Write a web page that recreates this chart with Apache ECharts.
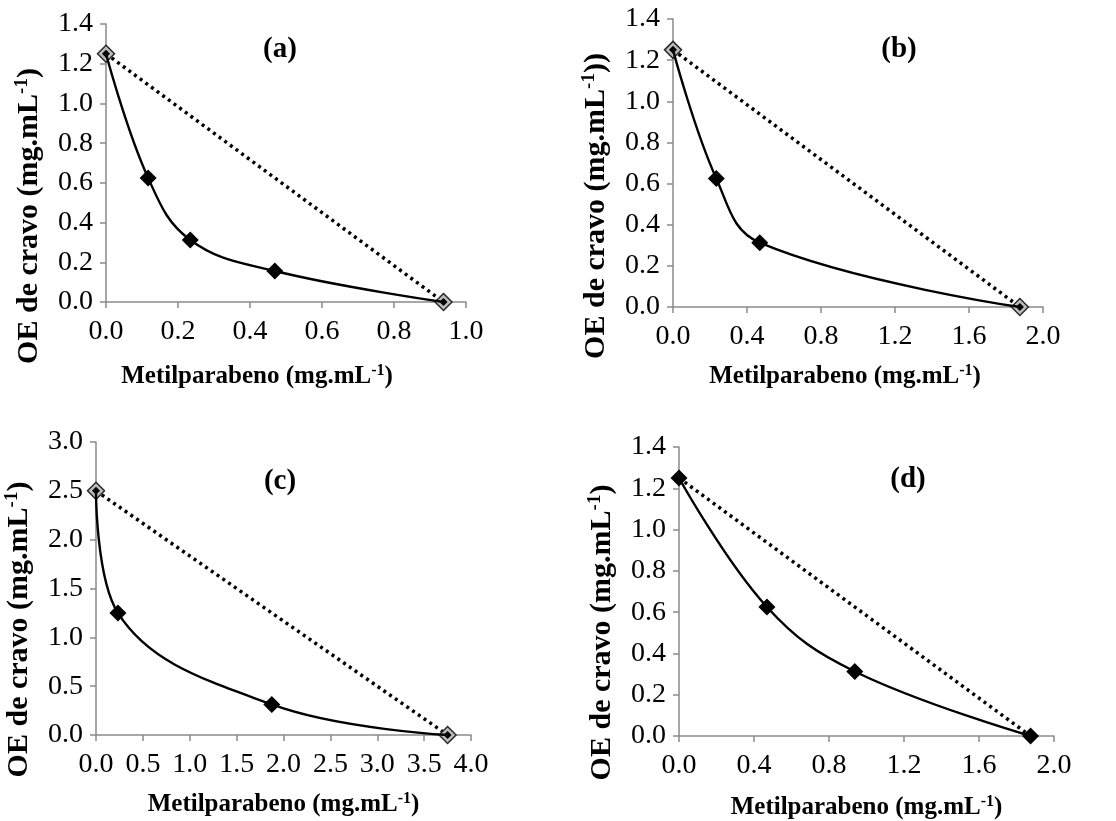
<!DOCTYPE html>
<html>
<head>
<meta charset="utf-8">
<script src="https://cdn.jsdelivr.net/npm/echarts@6/dist/echarts.min.js"></script>
<style>
  html, body { margin: 0; padding: 0; background: #fff; }
  #chart { width: 1116px; height: 821px; }
</style>
</head>
<body>
<div id="chart"></div>
<script>
// valores (mg.mL-1)
const metilA = [0, 0.117, 0.234, 0.469, 0.9375];
const cravoA = [1.25, 0.625, 0.3125, 0.156, 0];
const metilB = [0, 0.234, 0.469, 1.875];
const cravoB = [1.25, 0.625, 0.3125, 0];
const metilC = [0, 0.234, 1.875, 3.75];
const cravoC = [2.5, 1.25, 0.3125, 0];
const metilD = [0, 0.469, 0.9375, 1.875];
const cravoD = [1.25, 0.625, 0.3125, 0];

const panelLabels = ['(a)', '(b)', '(c)', '(d)'];
const xTitle = 'Metilparabeno (mg.mL';
const yTitle = 'OE de cravo (mg.mL';

const FONT = '"Liberation Serif", "Times New Roman", serif';
const chart = echarts.init(document.getElementById('chart'));

const panels = [
  { x: metilA, y: cravoA, xMax: 1.0, xInt: 0.2, yMax: 1.4, yInt: 0.2, grayEnds: true, yClose: ')',
    grid: { left: 106, top: 24, width: 360, height: 278 }, xGap: 61, xShift: -29, yShift: 53 },
  { x: metilB, y: cravoB, xMax: 2.0, xInt: 0.4, yMax: 1.4, yInt: 0.2, grayEnds: true, yClose: '))',
    grid: { left: 673, top: 19, width: 370, height: 288 }, xGap: 56, xShift: -13, yShift: 43 },
  { x: metilC, y: cravoC, xMax: 4.0, xInt: 0.5, yMax: 3.0, yInt: 0.5, grayEnds: true, yClose: ')',
    grid: { left: 96, top: 442, width: 375, height: 293 }, xGap: 56, xShift: 0, yShift: 41 },
  { x: metilD, y: cravoD, xMax: 2.0, xInt: 0.4, yMax: 1.4, yInt: 0.2, grayEnds: false, yClose: ')',
    grid: { left: 679, top: 447, width: 375, height: 289 }, xGap: 58, xShift: 0, yShift: 41 },
];

function richText(size) {
  return {
    b: { fontFamily: FONT, fontSize: size, fontWeight: 'bold', color: '#000' },
    s: { fontFamily: FONT, fontSize: Math.round(size * 0.62), fontWeight: 'bold', color: '#000',
         verticalAlign: 'top', padding: [0, 0, Math.round(size * 0.42), 0] },
  };
}

function axisCommon(max, interval) {
  return {
    type: 'value',
    min: 0,
    max: max,
    interval: interval,
    splitLine: { show: false },
    axisLine: { show: true, onZero: false, lineStyle: { color: '#8a8a8a', width: 1.5 } },
    axisTick: { show: true, inside: false, length: 6, lineStyle: { color: '#8a8a8a', width: 1.5 } },
    axisLabel: {
      fontFamily: FONT, fontSize: 28, color: '#000',
      formatter: (v) => v.toFixed(1),
    },
  };
}

const grids = [], xAxes = [], yAxes = [], series = [], graphics = [];

panels.forEach((p, i) => {
  grids.push(p.grid);

  const xa = axisCommon(p.xMax, p.xInt);
  xa.gridIndex = i;
  xa.axisLabel.margin = 16;
  xa.name = '{b|' + xTitle + '}{s|-1}{b|)}';
  xa.nameLocation = 'middle';
  xa.nameGap = p.xGap;
  xa.nameTextStyle = {
    rich: richText(25),
    padding: p.xShift < 0 ? [0, -2 * p.xShift, 0, 0] : [0, 0, 0, 2 * p.xShift],
  };
  xAxes.push(xa);

  const ya = axisCommon(p.yMax, p.yInt);
  ya.gridIndex = i;
  ya.axisLabel.margin = 13;
  ya.name = '{b|' + yTitle + '}{s|-1}{b|' + p.yClose + '}';
  ya.nameLocation = 'middle';
  ya.nameGap = 61;
  ya.nameTextStyle = { rich: richText(30), padding: [0, 2 * p.yShift, 0, 0] };
  yAxes.push(ya);

  const pts = p.x.map((v, k) => [v, p.y[k]]);
  const n = pts.length;

  // linha pontilhada entre os extremos
  series.push({
    type: 'line',
    xAxisIndex: i,
    yAxisIndex: i,
    data: [pts[0], pts[n - 1]],
    symbol: 'diamond',
    symbolSize: p.grayEnds ? 17 : 0,
    showSymbol: p.grayEnds,
    itemStyle: { color: '#bdbdbd', borderColor: '#2a2a2a', borderWidth: 1.5 },
    lineStyle: { color: '#000', width: 3.5, type: [3, 4] },
    z: 2,
    silent: true,
  });

  // curva suavizada
  series.push({
    type: 'line',
    xAxisIndex: i,
    yAxisIndex: i,
    data: pts,
    smooth: 0.4,
    symbol: 'diamond',
    symbolSize: (val, params) =>
      p.grayEnds && (params.dataIndex === 0 || params.dataIndex === n - 1) ? 8 : 17,
    itemStyle: { color: '#000' },
    lineStyle: { color: '#000', width: 2.4 },
    z: p.grayEnds ? 3 : 1,
    silent: true,
  });
});

const labelPos = [[280, 50], [899, 50], [280, 482], [908, 480]];
panelLabels.forEach((t, i) => {
  graphics.push({
    type: 'text',
    x: labelPos[i][0],
    y: labelPos[i][1],
    style: {
      text: t,
      font: 'bold 29px ' + FONT,
      fill: '#000',
      align: 'center',
      verticalAlign: 'middle',
    },
  });
});

chart.setOption({
  backgroundColor: '#fff',
  animation: false,
  grid: grids,
  xAxis: xAxes,
  yAxis: yAxes,
  series: series,
  graphic: graphics,
});
</script>
</body>
</html>
